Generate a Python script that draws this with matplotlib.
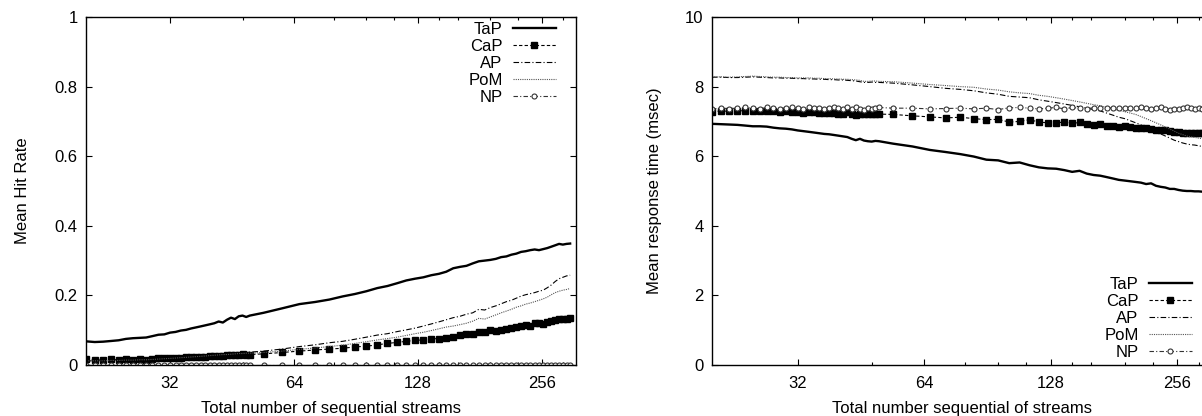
import matplotlib
matplotlib.use("Agg")
import matplotlib.pyplot as plt
from matplotlib.ticker import FixedLocator, FixedFormatter, NullFormatter

plt.rcParams['font.family'] = ['Liberation Sans', 'DejaVu Sans']
plt.rcParams['font.size'] = 12

# number of sequential streams (shared x values of every series)
streams = [20, 21, 22, 23, 24, 25, 26, 27, 28, 29, 30, 31, 32, 33, 34, 35,
           36, 37, 38, 39, 40, 41, 42, 43, 44, 45, 46, 47, 48, 49, 50,
           54, 60, 66, 72, 78, 84, 90, 96, 102, 108, 114, 120,
           126, 132, 138, 144, 150, 156, 162, 168, 174, 180, 186, 192, 198,
           204, 210, 216, 222, 228, 234, 240, 246, 252, 258, 264, 270, 276,
           282, 288, 294, 300]

series_names = ['TaP', 'CaP', 'AP', 'PoM', 'NP']

# left panel: mean hit rate
hit_tap = [0.068, 0.066, 0.067, 0.069, 0.071, 0.075, 0.077, 0.078, 0.079, 0.083,
           0.087, 0.088, 0.093, 0.095, 0.099, 0.101, 0.105, 0.108, 0.111, 0.114,
           0.117, 0.120, 0.125, 0.122, 0.130, 0.136, 0.132, 0.140, 0.142, 0.138, 0.142,
           0.150, 0.163, 0.175, 0.181, 0.188, 0.197, 0.204, 0.212, 0.221, 0.227, 0.235, 0.243,
           0.248, 0.252, 0.258, 0.262, 0.268, 0.278, 0.282, 0.285, 0.292, 0.298,
           0.300, 0.302, 0.305, 0.310, 0.312, 0.317, 0.320, 0.325, 0.327, 0.330,
           0.332, 0.330, 0.333, 0.336, 0.340, 0.344, 0.348, 0.346, 0.348, 0.349]
hit_cap = [0.016, 0.014, 0.015, 0.016, 0.015, 0.016, 0.015, 0.016, 0.014, 0.018,
           0.019, 0.019, 0.020, 0.021, 0.021, 0.022, 0.022, 0.023, 0.024, 0.024,
           0.025, 0.026, 0.026, 0.027, 0.028, 0.028, 0.029, 0.030, 0.031, 0.030, 0.030,
           0.032, 0.036, 0.040, 0.043, 0.046, 0.048, 0.052, 0.054, 0.058, 0.062, 0.065, 0.068,
           0.071, 0.072, 0.075, 0.076, 0.078, 0.080, 0.085, 0.088, 0.090, 0.094,
           0.096, 0.100, 0.097, 0.101, 0.104, 0.106, 0.110, 0.112, 0.116, 0.113,
           0.120, 0.122, 0.118, 0.125, 0.127, 0.129, 0.131, 0.132, 0.133, 0.135]
hit_ap = [0.012, 0.012, 0.013, 0.013, 0.014, 0.014, 0.015, 0.016, 0.016, 0.017,
          0.018, 0.019, 0.020, 0.021, 0.022, 0.023, 0.024, 0.025, 0.026, 0.027,
          0.028, 0.029, 0.030, 0.031, 0.032, 0.033, 0.034, 0.035, 0.035, 0.036, 0.037,
          0.040, 0.046, 0.053, 0.058, 0.064, 0.068, 0.074, 0.080, 0.086, 0.090, 0.096, 0.101,
          0.106, 0.112, 0.118, 0.124, 0.130, 0.136, 0.140, 0.146, 0.150, 0.160,
          0.158, 0.165, 0.170, 0.176, 0.182, 0.186, 0.192, 0.198, 0.202, 0.205,
          0.208, 0.212, 0.215, 0.222, 0.230, 0.240, 0.248, 0.252, 0.256, 0.258]
hit_pom = [0.012, 0.012, 0.012, 0.013, 0.013, 0.014, 0.014, 0.015, 0.015, 0.016,
           0.017, 0.018, 0.019, 0.020, 0.021, 0.022, 0.023, 0.024, 0.025, 0.026,
           0.027, 0.028, 0.029, 0.030, 0.030, 0.031, 0.032, 0.033, 0.033, 0.034, 0.034,
           0.036, 0.040, 0.045, 0.049, 0.053, 0.057, 0.062, 0.067, 0.072, 0.076, 0.080, 0.085,
           0.090, 0.094, 0.099, 0.104, 0.109, 0.112, 0.116, 0.120, 0.126, 0.134,
           0.132, 0.138, 0.144, 0.150, 0.155, 0.160, 0.166, 0.170, 0.175, 0.178,
           0.182, 0.186, 0.190, 0.195, 0.202, 0.208, 0.212, 0.215, 0.217, 0.220]
hit_np = [0.0, 0.0, 0.0, 0.0, 0.0, 0.0, 0.0, 0.0, 0.0, 0.0,
          0.0, 0.0, 0.0, 0.0, 0.0, 0.0, 0.0, 0.0, 0.0, 0.0,
          0.0, 0.0, 0.0, 0.0, 0.0, 0.0, 0.0, 0.0, 0.0, 0.0, 0.0,
          0.0, 0.0, 0.0, 0.0, 0.0, 0.0, 0.0, 0.0, 0.0, 0.0, 0.0, 0.0,
          0.0, 0.0, 0.0, 0.0, 0.0, 0.0, 0.0, 0.0, 0.0, 0.0,
          0.0, 0.0, 0.0, 0.0, 0.0, 0.0, 0.0, 0.0, 0.0, 0.0,
          0.0, 0.0, 0.0, 0.0, 0.0, 0.0, 0.0, 0.0, 0.0, 0.0]

# right panel: mean response time (msec)
resp_tap = [6.93, 6.92, 6.91, 6.90, 6.88, 6.86, 6.86, 6.85, 6.82, 6.80,
            6.79, 6.77, 6.74, 6.72, 6.70, 6.68, 6.66, 6.64, 6.63, 6.61,
            6.59, 6.57, 6.55, 6.50, 6.46, 6.50, 6.45, 6.43, 6.42, 6.44, 6.43,
            6.36, 6.28, 6.18, 6.12, 6.06, 5.99, 5.90, 5.88, 5.80, 5.82, 5.74, 5.68,
            5.65, 5.64, 5.60, 5.55, 5.58, 5.50, 5.46, 5.44, 5.40, 5.36,
            5.32, 5.30, 5.28, 5.26, 5.24, 5.20, 5.22, 5.15, 5.12, 5.10,
            5.06, 5.06, 5.03, 5.01, 5.00, 5.00, 4.99, 4.99, 4.98, 4.98]
resp_cap = [7.28, 7.30, 7.29, 7.30, 7.31, 7.30, 7.31, 7.29, 7.30, 7.28,
            7.29, 7.27, 7.28, 7.25, 7.26, 7.27, 7.24, 7.25, 7.24, 7.23,
            7.22, 7.22, 7.26, 7.20, 7.18, 7.21, 7.20, 7.21, 7.21, 7.21, 7.21,
            7.20, 7.16, 7.13, 7.10, 7.12, 7.08, 7.05, 7.06, 6.98, 7.00, 7.05, 6.98,
            6.96, 6.96, 6.98, 6.94, 6.97, 6.92, 6.90, 6.92, 6.86, 6.88,
            6.84, 6.86, 6.84, 6.82, 6.80, 6.80, 6.78, 6.76, 6.76, 6.74,
            6.72, 6.70, 6.70, 6.68, 6.67, 6.68, 6.67, 6.66, 6.66, 6.65]
resp_ap = [8.27, 8.27, 8.26, 8.26, 8.27, 8.28, 8.27, 8.26, 8.25, 8.25,
           8.24, 8.24, 8.23, 8.23, 8.22, 8.22, 8.21, 8.21, 8.20, 8.20,
           8.19, 8.19, 8.18, 8.17, 8.16, 8.14, 8.12, 8.12, 8.13, 8.12, 8.12,
           8.10, 8.05, 8.00, 7.95, 7.92, 7.88, 7.82, 7.78, 7.72, 7.70, 7.68, 7.62,
           7.58, 7.54, 7.50, 7.46, 7.42, 7.38, 7.34, 7.30, 7.24, 7.18,
           7.12, 7.08, 7.02, 6.96, 6.90, 6.84, 6.76, 6.70, 6.64, 6.58,
           6.52, 6.46, 6.42, 6.38, 6.35, 6.33, 6.32, 6.30, 6.28, 6.27]
resp_pom = [8.28, 8.28, 8.27, 8.28, 8.29, 8.30, 8.29, 8.28, 8.27, 8.27,
            8.26, 8.26, 8.25, 8.25, 8.25, 8.24, 8.24, 8.23, 8.23, 8.22,
            8.22, 8.21, 8.21, 8.20, 8.19, 8.18, 8.15, 8.15, 8.16, 8.16, 8.15,
            8.14, 8.10, 8.06, 8.03, 8.00, 7.98, 7.93, 7.90, 7.85, 7.82, 7.80, 7.75,
            7.72, 7.68, 7.64, 7.60, 7.56, 7.52, 7.48, 7.45, 7.40, 7.36,
            7.32, 7.28, 7.24, 7.20, 7.14, 7.08, 7.02, 6.96, 6.90, 6.84,
            6.78, 6.72, 6.66, 6.62, 6.58, 6.56, 6.54, 6.52, 6.50, 6.48]
resp_np = [7.36, 7.38, 7.37, 7.38, 7.40, 7.38, 7.36, 7.40, 7.38, 7.37,
           7.39, 7.40, 7.38, 7.36, 7.40, 7.38, 7.39, 7.36, 7.38, 7.40,
           7.38, 7.37, 7.40, 7.35, 7.42, 7.36, 7.34, 7.38, 7.37, 7.38, 7.40,
           7.38, 7.38, 7.36, 7.37, 7.38, 7.36, 7.38, 7.34, 7.39, 7.40, 7.38, 7.36,
           7.38, 7.40, 7.36, 7.40, 7.38, 7.37, 7.39, 7.38, 7.38, 7.39,
           7.38, 7.38, 7.39, 7.38, 7.40, 7.38, 7.37, 7.38, 7.40, 7.36,
           7.34, 7.35, 7.36, 7.38, 7.40, 7.38, 7.37, 7.38, 7.36, 7.37]

x_major = [32, 64, 128, 256]
x_minor = [48, 80, 96, 112, 144, 160, 192, 224, 288]

# gnuplot-like line styles for TaP, CaP, AP, PoM, NP
styles = [
    dict(color='black', lw=1.7, ls='-'),
    dict(color='black', lw=0.8, ls=(0, (3, 2)), marker='s', ms=3.8),
    dict(color='black', lw=0.8, ls=(0, (5, 2, 1, 2))),
    dict(color='#555555', lw=0.8, ls=(0, (1, 1))),
    dict(color='#333333', lw=0.8, ls=(0, (4, 2, 1, 2)), marker='o', ms=3.6,
         mfc='white', mec='#333333', mew=0.8),
]


def setup_axis(ax, ymax, yticks, ylabels, ylabel, xlabel, ylabelpad):
    ax.set_xscale('log', base=2)
    ax.set_xlim(20, 310)
    ax.set_ylim(0, ymax)
    ax.xaxis.set_major_locator(FixedLocator(x_major))
    ax.xaxis.set_major_formatter(FixedFormatter([str(v) for v in x_major]))
    ax.xaxis.set_minor_locator(FixedLocator(x_minor))
    ax.xaxis.set_minor_formatter(NullFormatter())
    ax.set_yticks(yticks)
    ax.set_yticklabels(ylabels)
    ax.tick_params(which='both', direction='in', top=True, right=True,
                   labelsize=12)
    ax.tick_params(axis='x', which='both', pad=8)
    ax.tick_params(axis='y', which='both', pad=6)
    ax.tick_params(which='major', length=4.5, width=0.8)
    ax.tick_params(which='minor', length=2.5, width=0.8)
    for sp in ax.spines.values():
        sp.set_linewidth(1.0)
    ax.set_xlabel(xlabel, fontsize=12, labelpad=7)
    ax.set_ylabel(ylabel, fontsize=12, labelpad=ylabelpad)


fig = plt.figure(figsize=(12.02, 4.16), dpi=100)

ax1 = fig.add_axes([86 / 1202, 51 / 416, 490 / 1202, 348 / 416])
for name, ys, st in zip(series_names, [hit_tap, hit_cap, hit_ap, hit_pom, hit_np], styles):
    ax1.plot(streams, ys, label=name, **st)
setup_axis(ax1, 1.0, [0, 0.2, 0.4, 0.6, 0.8, 1.0],
           ['0', '0.2', '0.4', '0.6', '0.8', '1'],
           'Mean Hit Rate', 'Total number of sequential streams', 18)
ax1.legend(loc='upper right', bbox_to_anchor=(0.959, 0.987), frameon=False,
           markerfirst=False, handlelength=2.6, handletextpad=0.6,
           labelspacing=0.12, borderpad=0, borderaxespad=0, fontsize=12)

# right panel runs past the right edge of the figure, as in the original
ax2 = fig.add_axes([712 / 1202, 51 / 416, 500 / 1202, 348 / 416])
for name, ys, st in zip(series_names, [resp_tap, resp_cap, resp_ap, resp_pom, resp_np], styles):
    ax2.plot(streams, ys, label=name, **st)
setup_axis(ax2, 10, [0, 2, 4, 6, 8, 10],
           ['0', '2', '4', '6', '8', '10'],
           'Mean response time (msec)', 'Total number sequential of streams', 17)
ax2.legend(loc='lower right', bbox_to_anchor=(0.96, 0.014), frameon=False,
           markerfirst=False, handlelength=2.6, handletextpad=0.6,
           labelspacing=0.12, borderpad=0, borderaxespad=0, fontsize=12)

fig.savefig('out.png', dpi=100)
